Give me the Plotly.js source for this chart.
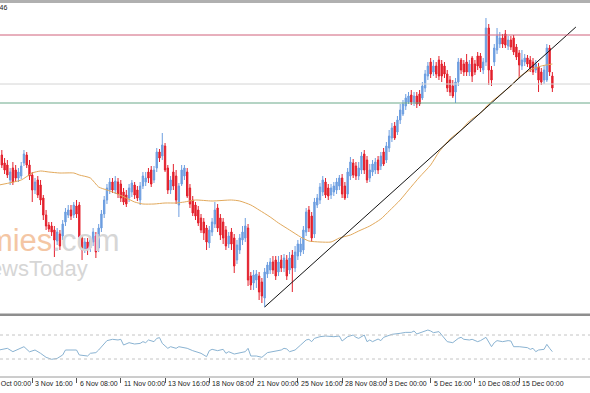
<!DOCTYPE html>
<html>
<head>
<meta charset="utf-8">
<script src="https://cdn.plot.ly/plotly-3.0.1.min.js"></script>
<style>html,body{margin:0;padding:0;background:#fff;}#chart{width:590px;height:393px;}</style>
</head>
<body>
<div id="chart"></div>
<script>
// EURUSD H4 bars; bar index 0 = 30 Oct 00:00, first visible bar index 5
const firstBar = 5;
const open = [
1.1665,1.1657,1.1655,1.1640,1.1652,1.1650,1.1642,1.1644,1.1657,1.1665,
1.1655,1.1645,1.1630,1.1640,1.1635,1.1622,1.1605,1.1595,1.1594,1.1590,
1.1579,1.1586,1.1584,1.1598,1.1605,1.1610,1.1605,1.1614,1.1615,1.1582,
1.1570,1.1578,1.1572,1.1578,1.1584,1.1572,1.1592,1.1606,1.1620,1.1630,
1.1638,1.1630,1.1638,1.1636,1.1628,1.1625,1.1622,1.1628,1.1635,1.1630,
1.1620,1.1634,1.1638,1.1648,1.1650,1.1640,1.1652,1.1668,1.1664,1.1674,
1.1652,1.1630,1.1648,1.1644,1.1615,1.1636,1.1644,1.1648,1.1632,1.1620,
1.1615,1.1610,1.1602,1.1598,1.1592,1.1577,1.1588,1.1596,1.1612,1.1602,
1.1598,1.1590,1.1576,1.1588,1.1582,1.1560,1.1570,1.1580,1.1582,1.1592,
1.1544,1.1537,1.1540,1.1544,1.1538,1.1522,1.1546,1.1550,1.1558,1.1560,
1.1548,1.1560,1.1552,1.1560,1.1550,1.1565,1.1552,1.1564,1.1568,1.1570,
1.1588,1.1610,1.1604,1.1586,1.1615,1.1620,1.1628,1.1638,1.1632,1.1625,
1.1628,1.1630,1.1634,1.1642,1.1634,1.1626,1.1644,1.1657,1.1654,1.1644,
1.1650,1.1666,1.1660,1.1642,1.1648,1.1650,1.1660,1.1654,1.1668,1.1660,
1.1672,1.1682,1.1694,1.1688,1.1700,1.1706,1.1714,1.1718,1.1725,1.1718,
1.1724,1.1726,1.1722,1.1732,1.1744,1.1758,1.1748,1.1754,1.1760,1.1756,
1.1754,1.1746,1.1740,1.1734,1.1728,1.1738,1.1760,1.1756,1.1758,1.1748,
1.1762,1.1756,1.1764,1.1764,1.1750,1.1758,1.1792,1.1750,1.1758,1.1770,
1.1776,1.1782,1.1786,1.1774,1.1780,1.1782,1.1773,1.1767,1.1754,1.1758,
1.1762,1.1760,1.1758,1.1750,1.1753,1.1748,1.1740,1.1740,1.1772,1.1744];
const high = [
1.1670,1.1662,1.1660,1.1652,1.1658,1.1655,1.1652,1.1658,1.1670,1.1668,
1.1660,1.1648,1.1642,1.1644,1.1640,1.1625,1.1610,1.1598,1.1598,1.1594,
1.1592,1.1590,1.1600,1.1612,1.1615,1.1615,1.1618,1.1620,1.1618,1.1585,
1.1582,1.1582,1.1584,1.1592,1.1588,1.1596,1.1610,1.1624,1.1636,1.1642,
1.1642,1.1644,1.1642,1.1640,1.1632,1.1630,1.1636,1.1640,1.1638,1.1634,
1.1638,1.1648,1.1648,1.1652,1.1654,1.1654,1.1672,1.1671,1.1687,1.1677,
1.1655,1.1644,1.1656,1.1650,1.1637,1.1655,1.1655,1.1652,1.1636,1.1624,
1.1618,1.1614,1.1606,1.1602,1.1595,1.1594,1.1602,1.1618,1.1616,1.1606,
1.1602,1.1594,1.1588,1.1592,1.1586,1.1580,1.1586,1.1594,1.1602,1.1596,
1.1548,1.1550,1.1550,1.1548,1.1542,1.1552,1.1558,1.1562,1.1564,1.1564,
1.1564,1.1565,1.1566,1.1565,1.1568,1.1570,1.1574,1.1580,1.1582,1.1594,
1.1612,1.1614,1.1608,1.1622,1.1626,1.1637,1.1644,1.1642,1.1636,1.1636,
1.1638,1.1642,1.1645,1.1646,1.1638,1.1652,1.1663,1.1661,1.1658,1.1658,
1.1668,1.1670,1.1664,1.1656,1.1660,1.1662,1.1664,1.1668,1.1672,1.1678,
1.1690,1.1697,1.1698,1.1704,1.1716,1.1720,1.1726,1.1728,1.1730,1.1728,
1.1728,1.1730,1.1738,1.1750,1.1758,1.1762,1.1760,1.1758,1.1764,1.1760,
1.1758,1.1750,1.1744,1.1740,1.1742,1.1762,1.1762,1.1760,1.1766,1.1760,
1.1764,1.1760,1.1768,1.1767,1.1762,1.1802,1.1796,1.1754,1.1776,1.1792,
1.1788,1.1786,1.1790,1.1784,1.1784,1.1785,1.1776,1.1770,1.1770,1.1766,
1.1765,1.1764,1.1762,1.1760,1.1757,1.1752,1.1754,1.1776,1.1775,1.1748];
const low = [
1.1652,1.1646,1.1642,1.1635,1.1635,1.1638,1.1638,1.1641,1.1654,1.1652,
1.1640,1.1618,1.1626,1.1622,1.1615,1.1600,1.1590,1.1588,1.1584,1.1563,
1.1575,1.1570,1.1580,1.1594,1.1602,1.1600,1.1602,1.1602,1.1580,1.1560,
1.1567,1.1565,1.1568,1.1574,1.1562,1.1568,1.1588,1.1602,1.1616,1.1626,
1.1627,1.1626,1.1622,1.1618,1.1615,1.1613,1.1618,1.1623,1.1621,1.1619,
1.1615,1.1631,1.1634,1.1637,1.1633,1.1637,1.1648,1.1658,1.1660,1.1648,
1.1626,1.1626,1.1630,1.1616,1.1603,1.1634,1.1640,1.1622,1.1612,1.1604,
1.1600,1.1594,1.1587,1.1580,1.1570,1.1572,1.1584,1.1592,1.1588,1.1580,
1.1576,1.1570,1.1572,1.1570,1.1547,1.1556,1.1566,1.1575,1.1578,1.1534,
1.1530,1.1530,1.1532,1.1520,1.1517,1.1513,1.1542,1.1546,1.1546,1.1540,
1.1544,1.1548,1.1548,1.1540,1.1546,1.1528,1.1548,1.1560,1.1564,1.1566,
1.1584,1.1588,1.1578,1.1582,1.1612,1.1616,1.1624,1.1622,1.1620,1.1621,
1.1624,1.1626,1.1630,1.1622,1.1620,1.1622,1.1640,1.1642,1.1640,1.1640,
1.1646,1.1646,1.1637,1.1638,1.1644,1.1646,1.1646,1.1650,1.1654,1.1657,
1.1668,1.1678,1.1680,1.1685,1.1696,1.1704,1.1710,1.1716,1.1715,1.1714,
1.1712,1.1714,1.1720,1.1728,1.1740,1.1742,1.1744,1.1742,1.1740,1.1738,
1.1742,1.1728,1.1724,1.1722,1.1717,1.1734,1.1746,1.1744,1.1744,1.1744,
1.1738,1.1745,1.1750,1.1748,1.1746,1.1754,1.1735,1.1734,1.1754,1.1766,
1.1772,1.1772,1.1772,1.1770,1.1770,1.1765,1.1760,1.1742,1.1750,1.1754,
1.1753,1.1748,1.1745,1.1747,1.1728,1.1735,1.1736,1.1738,1.1744,1.1728];
const close = [
1.1655,1.1650,1.1645,1.1648,1.1638,1.1642,1.1648,1.1654,1.1666,1.1655,
1.1644,1.1630,1.1638,1.1625,1.1620,1.1605,1.1594,1.1591,1.1588,1.1580,
1.1588,1.1574,1.1596,1.1608,1.1610,1.1604,1.1615,1.1606,1.1583,1.1570,
1.1578,1.1571,1.1580,1.1588,1.1568,1.1592,1.1606,1.1620,1.1632,1.1638,
1.1630,1.1639,1.1626,1.1622,1.1618,1.1616,1.1632,1.1637,1.1625,1.1622,
1.1634,1.1644,1.1642,1.1642,1.1636,1.1650,1.1668,1.1662,1.1675,1.1650,
1.1630,1.1640,1.1634,1.1620,1.1634,1.1650,1.1652,1.1624,1.1616,1.1607,
1.1604,1.1597,1.1590,1.1587,1.1578,1.1590,1.1598,1.1610,1.1592,1.1585,
1.1582,1.1574,1.1584,1.1576,1.1554,1.1575,1.1582,1.1588,1.1594,1.1540,
1.1535,1.1545,1.1546,1.1528,1.1524,1.1548,1.1555,1.1558,1.1550,1.1544,
1.1558,1.1552,1.1562,1.1544,1.1562,1.1552,1.1568,1.1576,1.1576,1.1590,
1.1608,1.1592,1.1582,1.1618,1.1622,1.1633,1.1640,1.1625,1.1624,1.1632,
1.1634,1.1638,1.1642,1.1626,1.1622,1.1648,1.1658,1.1645,1.1644,1.1652,
1.1664,1.1650,1.1640,1.1650,1.1656,1.1658,1.1650,1.1664,1.1656,1.1674,
1.1684,1.1692,1.1682,1.1700,1.1710,1.1716,1.1722,1.1724,1.1718,1.1724,
1.1716,1.1716,1.1734,1.1746,1.1754,1.1746,1.1754,1.1746,1.1744,1.1744,
1.1746,1.1732,1.1728,1.1724,1.1738,1.1758,1.1750,1.1748,1.1748,1.1756,
1.1744,1.1748,1.1754,1.1752,1.1758,1.1792,1.1750,1.1740,1.1772,1.1784,
1.1782,1.1776,1.1775,1.1780,1.1773,1.1768,1.1763,1.1755,1.1760,1.1762,
1.1756,1.1752,1.1748,1.1756,1.1740,1.1738,1.1750,1.1772,1.1748,1.1732];

// Moving average (read at selected bars)
const maBars = [4,12,16,19,22,26,31,33,37,40,43,46,50,53,56,60,64,68,71,75,81,88,91,95,98,102,105,109,113,116,120,124,127,131,134,138,142,145,149,152,156,160,163,167,171,174,178,181,185,189,192,196,200,204];
const maVals = [1.1635,1.1640,1.1647,1.1649,1.1648,1.1647,1.1647,1.1645,1.1642,1.1633,
1.1630,1.1627,1.1622,1.1618,1.1616,1.1616,1.1617,1.1617,1.1618,1.1620,
1.1619,1.1620,1.1619,1.1615,1.1610,1.1603,1.1597,1.1590,1.1583,1.1579,
1.1578,1.1578,1.1582,1.1585,1.1589,1.1594,1.1601,1.1609,1.1620,1.1630,
1.1643,1.1655,1.1668,1.1681,1.1690,1.1699,1.1707,1.1716,1.1725,1.1734,
1.1743,1.1750,1.1754,1.1756];

// RSI (read at selected bars)
const rsiBars = [4,7,9,12,13,15,17,19,21,23,25,27,28,30,32,33,36,37,39,40,42,43,45,47,48,49,51,53,55,56,57,58,60,61,62,63,65,66,68,69,72,74,77,79,80,81,83,85,86,87,89,91,93,94,95,97,99,101,103,106,107,108,109,111,113,115,116,117,118,120,122,125,127,128,130,132,133,134,136,137,138,139,141,142,143,145,146,149,151,153,154,155,157,159,160,161,163,164,165,166,168,169,170,171,172,174,175,177,178,180,181,182,183,184,186,188,189,190,192,195,196,197,198,199,201,202,203,204];
const rsiVals = [45,47.8,42.2,47.8,50.5,42,45,39.5,32.8,29.5,31,36.7,45,45,45,36.7,35,39.5,40.6,45,56,60.6,62.8,61.7,62.8,53.3,57.2,55,56,58.9,57.2,61.7,58.9,64.4,65.6,56,47.8,50.5,47.8,50.5,47.8,43.9,39.5,33.9,43.9,46.1,43.9,46.1,39.5,42.2,38.3,40.6,42.2,47.8,35,35,32.8,40.6,42.2,45,47.8,46.7,42.2,45,53.3,61.7,62.8,58.9,64.4,67.2,68.3,67.2,68.3,60,67.2,70,66.1,64.4,70,58.9,61.7,58.9,63.3,60.6,66.1,68.9,71.1,72.8,74.4,74.4,76.7,71.7,74.4,78.3,76.7,73.9,75.6,70,66.1,58.9,57.2,60.6,64.4,66.1,62.8,61.7,62.8,58.9,60.6,66.1,58.9,50.5,57.2,60.6,58.9,60.6,60,50.5,50.5,48.9,46.1,47.8,42.2,45,46.1,54.4,47.8,42.2];
const rsiLevels = [70, 30];

// Drawn objects
const trendBars = [100, 212.5];
const trendVals = [1.1513, 1.1793];
const levelVals = [1.1785, 1.1736, 1.1717];
const levelColors = ['#d0607a', '#d4d4d4', '#6aa98a'];

// Time axis labels
const tickBars = [0,16,32,48,64,80,96,112,128,144,160,176,192];
const tickText = ['30 Oct 00:00','3 Nov 16:00','6 Nov 08:00','11 Nov 00:00','13 Nov 16:00','18 Nov 08:00','21 Nov 00:00','25 Nov 16:00','28 Nov 08:00','3 Dec 00:00','5 Dec 16:00','10 Dec 08:00','15 Dec 00:00'];

const xRange = [4.34, 217.6];
const bars = open.map((_, k) => firstBar + k);
const H = 393;
const py = p => 1 - p / H; // pixel row -> paper y
const xPaper = b => (b - xRange[0]) / (xRange[1] - xRange[0]);

const traces = [
  {type:'scatter', mode:'lines', x:maBars, y:maVals, line:{color:'#e2a95c', width:1, shape:'spline', smoothing:0.6}, hoverinfo:'skip', showlegend:false},
  {type:'candlestick', x:bars, open:open, high:high, low:low, close:close,
   increasing:{line:{color:'#6d9ee0', width:1}, fillcolor:'#6d9ee0'},
   decreasing:{line:{color:'#e3202c', width:1}, fillcolor:'#e3202c'},
   whiskerwidth:0, hoverinfo:'skip', showlegend:false},
  {type:'scatter', mode:'lines', x:trendBars, y:trendVals, line:{color:'#111', width:1}, hoverinfo:'skip', showlegend:false},
  {type:'scatter', mode:'lines', x:rsiBars, y:rsiVals, yaxis:'y2', line:{color:'#8ab3d2', width:1}, hoverinfo:'skip', showlegend:false}
];

const shapes = [];
levelVals.forEach((v, k) => shapes.push({type:'line', xref:'paper', x0:0, x1:1, yref:'y', y0:v, y1:v, line:{color:levelColors[k], width:1}}));
rsiLevels.forEach(v => shapes.push({type:'line', xref:'paper', x0:0, x1:1, yref:'y2', y0:v, y1:v, line:{color:'#c4c4c4', width:1, dash:'3px,3px'}}));
// window frame
shapes.push({type:'rect', xref:'paper', yref:'paper', x0:0, x1:1, y0:py(3), y1:1, fillcolor:'#b0b0b0', line:{width:0}, layer:'above'});
shapes.push({type:'rect', xref:'paper', yref:'paper', x0:0, x1:1, y0:py(316), y1:py(313.5), fillcolor:'#8e8e8e', line:{width:0}, layer:'above'});
shapes.push({type:'line', xref:'paper', yref:'paper', x0:0, x1:1, y0:py(377), y1:py(377), line:{color:'#9a9a9a', width:1}, layer:'above'});

const annotations = [
  {xref:'paper', yref:'paper', x:122/590, y:py(240), xanchor:'right', yanchor:'middle', showarrow:false,
   text:'<span style="color:#f4c6a4">Economies</span><span style="color:#d6d6d6">.com</span>',
   font:{family:'Liberation Sans, Arial', size:31}},
  {xref:'paper', yref:'paper', x:90/590, y:py(268), xanchor:'right', yanchor:'middle', showarrow:false,
   text:'NewsToday', font:{family:'Liberation Sans, Arial', size:22, color:'#d6d6d6'}},
  {xref:'paper', yref:'paper', x:9/590, y:py(8), xanchor:'right', yanchor:'middle', showarrow:false,
   text:'1.16746', font:{family:'Liberation Sans, Arial', size:7, color:'#222'}}
];
// time labels, left-aligned at their tick as in the terminal
tickBars.forEach((b, k) => annotations.push({xref:'paper', yref:'paper', x:xPaper(b), y:py(383.5), xanchor:'left', yanchor:'middle', xshift:1,
  showarrow:false, text:tickText[k], font:{family:'Liberation Sans, Arial', size:7, color:'#222'}}));

const layout = {
  width:590, height:393,
  margin:{l:0, r:0, t:0, b:0},
  paper_bgcolor:'#fff', plot_bgcolor:'#fff',
  showlegend:false,
  xaxis:{range:xRange, anchor:'y2', tickvals:tickBars, showticklabels:false,
    ticks:'outside', ticklen:5, tickcolor:'#555', tickwidth:1,
    showgrid:false, zeroline:false, showline:false, rangeslider:{visible:false}, fixedrange:true},
  yaxis:{domain:[py(313), py(4)], range:[1.1507, 1.1816], showticklabels:false, showgrid:false, zeroline:false, fixedrange:true},
  yaxis2:{domain:[py(377), py(317)], range:[0, 100], showticklabels:false, showgrid:false, zeroline:false, fixedrange:true},
  shapes:shapes,
  annotations:annotations
};

Plotly.newPlot('chart', traces, layout, {staticPlot:true, displayModeBar:false});
</script>
</body>
</html>
